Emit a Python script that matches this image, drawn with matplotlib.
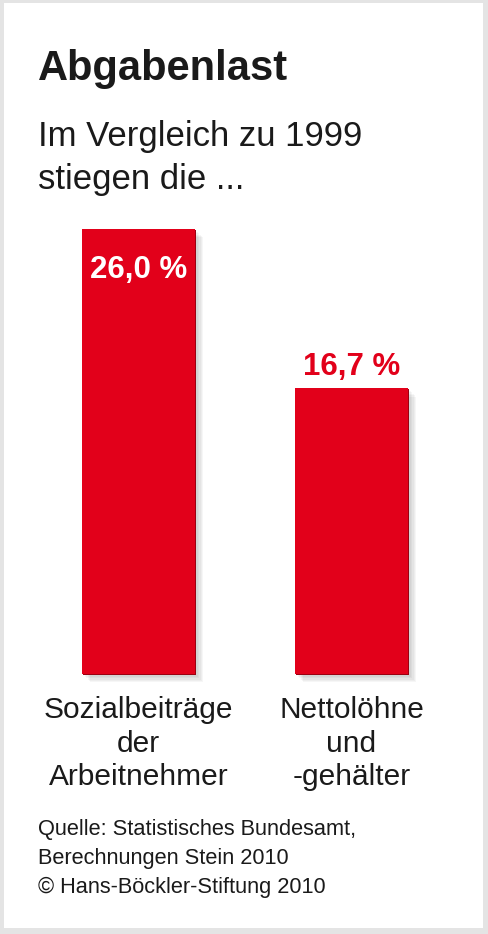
import matplotlib
matplotlib.use("Agg")
import matplotlib.pyplot as plt
import matplotlib.patheffects as pe
from matplotlib.patches import Rectangle

categories = ["Sozialbeiträge\nder\nArbeitnehmer", "Nettolöhne\nund\n-gehälter"]
values = [26.0, 16.7]
value_labels = ["26,0 %", "16,7 %"]

title = "Abgabenlast"
subtitle = ["Im Vergleich zu 1999", "stiegen die ..."]
source = ["Quelle: Statistisches Bundesamt,",
          "Berechnungen Stein 2010",
          "© Hans-Böckler-Stiftung 2010"]

RED = "#e2001a"
DARK = "#1a1a1a"
W, H = 488, 934

plt.rcParams['font.family'] = ['Liberation Sans', 'DejaVu Sans']

fig = plt.figure(figsize=(W / 100, H / 100), dpi=100)
fig.patch.set_facecolor("#e4e4e4")
# white card with a thin grey frame around it
fig.patches.append(Rectangle((4 / W, 6 / H), 479 / W, 925 / H,
                             transform=fig.transFigure, facecolor="white",
                             edgecolor="none", zorder=-10))

def px(x, y):
    return x / W, 1 - y / H

fig.text(*px(38, 80), title, fontsize=30, fontweight="bold", color=DARK)
fig.text(*px(38, 146), subtitle[0], fontsize=25, color=DARK)
fig.text(*px(38, 189), subtitle[1], fontsize=25, color=DARK)
for i, line in enumerate(source):
    fig.text(*px(38, 835 + i * 29), line, fontsize=15.7, color=DARK)

# bars: x=0 -> 138.5 px, x=1 -> 351.5 px, one unit = 213 px
unit = 213
ax = fig.add_axes([0, (H - 674) / H, 1, 445 / H])
ax.set_xlim(-138.5 / unit, (W - 138.5) / unit)
ax.set_ylim(0, max(values))
ax.axis("off")

shadow = [pe.SimplePatchShadow(offset=(d, -d), shadow_rgbFace="k", alpha=0.035)
          for d in (1, 2, 3, 4, 5, 6)]
shadow += [pe.SimplePatchShadow(offset=(0.7, -0.7), shadow_rgbFace="#9a0010", alpha=1),
           pe.Normal()]

x = list(range(len(values)))
bars = ax.bar(x, values, width=113 / unit, color=RED, edgecolor="none")
for b in bars:
    b.set_path_effects(shadow)
    b.set_clip_on(False)

# first label inside bar (white), second above bar (red)
ax.annotate(value_labels[0], xy=(x[0], values[0]), xytext=(0, -49),
            textcoords="offset pixels", ha="center", va="baseline",
            fontsize=22.5, fontweight="bold", color="white")
ax.annotate(value_labels[1], xy=(x[1], values[1]), xytext=(0, 13),
            textcoords="offset pixels", ha="center", va="baseline",
            fontsize=22.5, fontweight="bold", color=RED)

for xi, cat in zip(x, categories):
    ax.annotate(cat, xy=(xi, 0), xytext=(0, -22), textcoords="offset pixels",
                ha="center", va="top", multialignment="center",
                fontsize=21.5, color=DARK, linespacing=1.25,
                annotation_clip=False)

fig.savefig("out.png", dpi=100)
